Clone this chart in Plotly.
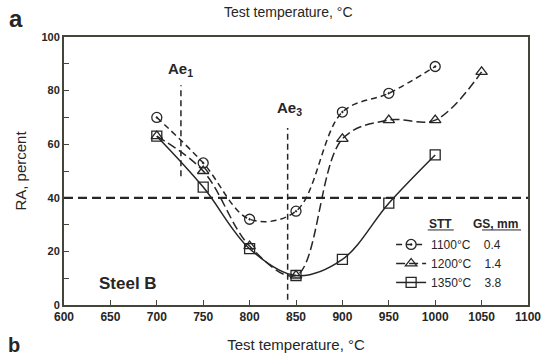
import plotly.graph_objects as go

# Reduction of area vs. test temperature, Steel B, three solution treatments
temps_1100 = [700, 750, 800, 850, 900, 950, 1000]
ra_1100 = [70, 53, 32, 35, 72, 79, 89]

temps_1200 = [700, 750, 800, 850, 900, 950, 1000, 1050]
ra_1200 = [63, 50, 22, 11, 62, 69, 69, 87]

temps_1350 = [700, 750, 800, 850, 900, 950, 1000]
ra_1350 = [63, 44, 21, 11, 17, 38, 56]

series_names = ["1100°C", "1200°C", "1350°C"]
grain_sizes = ["0.4", "1.4", "3.8"]

# Reference lines: RA = 40 % criterion, Ae1 and Ae3 temperatures
ra_criterion = 40
ae1_temp, ae1_span = 726, (48, 82)
ae3_temp, ae3_span = 841, (2, 66)

x_ticks = list(range(600, 1101, 50))
y_ticks = list(range(0, 101, 20))

ink = "#262626"
frame = "#45463a"
font_family = "Liberation Sans, Arial, sans-serif"

fig = go.Figure()

styles = [
    dict(dash="6px,4px", symbol="circle-open-dot"),
    dict(dash="9px,4px", symbol="triangle-up-open"),
    dict(dash="solid", symbol="square-open"),
]
for (xs, ys), name, gs, st in zip(
    [(temps_1100, ra_1100), (temps_1200, ra_1200), (temps_1350, ra_1350)],
    series_names, grain_sizes, styles,
):
    fig.add_trace(go.Scatter(
        x=xs, y=ys, mode="lines+markers",
        name=name + "\u00a0\u00a0\u00a0\u00a0" + gs,
        line=dict(color=ink, width=1.5, dash=st["dash"], shape="spline", smoothing=1.0),
        marker=dict(symbol=st["symbol"], size=10, color=ink, line=dict(width=1.3, color=ink)),
    ))

# Horizontal RA criterion line across the whole plot
fig.add_shape(type="line", xref="paper", yref="y", x0=0, x1=1,
              y0=ra_criterion, y1=ra_criterion,
              line=dict(color=ink, width=2.2, dash="9px,5px"))
# Transformation temperatures
for t, (lo, hi) in [(ae1_temp, ae1_span), (ae3_temp, ae3_span)]:
    fig.add_shape(type="line", xref="x", yref="y", x0=t, x1=t, y0=lo, y1=hi,
                  line=dict(color=ink, width=1.5, dash="6px,4px"))


def note(x, y, text, size, ref="paper", bold=False):
    return dict(x=x, y=y, xref="x" if ref == "data" else "paper",
                yref="y" if ref == "data" else "paper",
                text=f"<b>{text}</b>" if bold else text,
                showarrow=False, xanchor="center", yanchor="middle",
                font=dict(size=size, color=ink))


annotations = [
    note(ae1_temp - 1, 87.7, "Ae<sub>1</sub>", 15, "data", True),
    note(ae3_temp + 2, 73.5, "Ae<sub>3</sub>", 15, "data", True),
    note(669, 8.2, "Steel B", 17, "data", True),
    note(0.812, 0.302, "STT", 12, bold=True),
    note(0.929, 0.302, "GS, mm", 12, bold=True),
    note(-0.103, 1.07, "a", 24, bold=True),
    note(-0.108, -0.148, "b", 20, bold=True),
    note(0.484, 1.093, "Test temperature, °C", 14),
]
# Underlines of the legend column headers
for x0, x1 in [(0.784, 0.840), (0.901, 0.985)]:
    fig.add_shape(type="line", xref="paper", yref="paper", x0=x0, x1=x1,
                  y0=0.28, y1=0.28, line=dict(color=ink, width=1))

fig.update_layout(
    width=543, height=358,
    margin=dict(l=64, r=15, t=37, b=53, autoexpand=False),
    paper_bgcolor="white", plot_bgcolor="white",
    font=dict(family=font_family, color=ink),
    annotations=annotations,
    showlegend=True,
    legend=dict(x=0.705, y=0.28, xanchor="left", yanchor="top",
                bgcolor="rgba(0,0,0,0)", font=dict(size=12, color=ink),
                tracegroupgap=0, itemwidth=30),
)
fig.update_xaxes(
    range=[600, 1100], tickvals=x_ticks, ticktext=[f"<b>{v}</b>" for v in x_ticks],
    ticks="inside", ticklen=5, tickcolor=frame, tickwidth=1.2,
    showline=True, linecolor=frame, linewidth=2, mirror=True,
    showgrid=False, zeroline=False, tickfont=dict(size=12, color=ink),
    title=dict(text="Test temperature, °C", font=dict(size=15, color=ink), standoff=16),
)
fig.update_yaxes(
    range=[0, 100], tickvals=y_ticks, ticktext=[f"<b>{v}</b>" for v in y_ticks],
    ticks="inside", ticklen=5, tickcolor=frame, tickwidth=1.2,
    minor=dict(dtick=10, ticks="inside", ticklen=5, tickcolor=frame),
    showline=True, linecolor=frame, linewidth=2, mirror=True,
    showgrid=False, zeroline=False, tickfont=dict(size=11, color=ink),
    title=dict(text="RA, percent", font=dict(size=15, color=ink), standoff=11),
)

fig.write_html("out.html")
